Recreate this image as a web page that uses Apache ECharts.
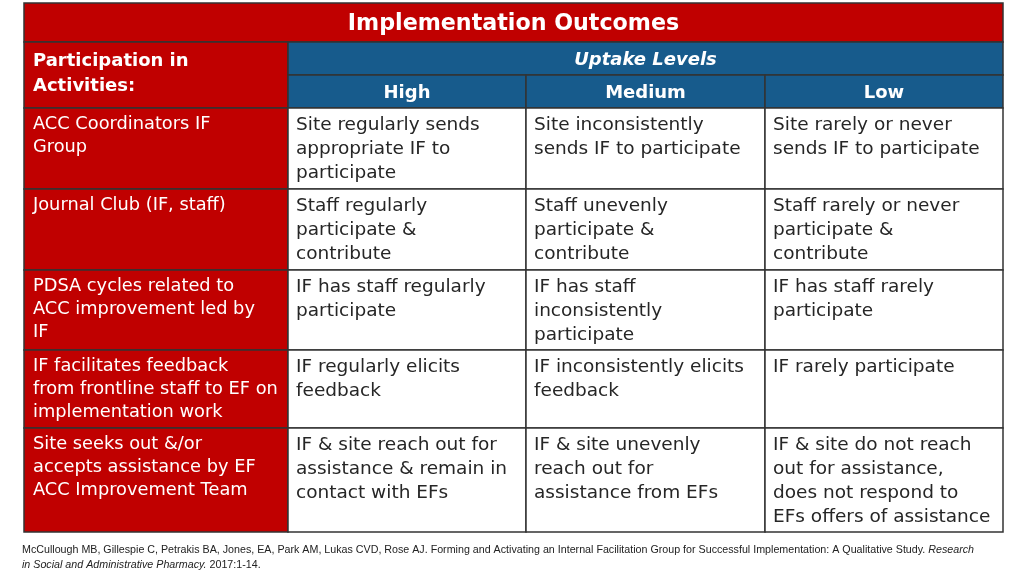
<!DOCTYPE html>
<html><head><meta charset="utf-8">
<script src="https://cdn.jsdelivr.net/npm/echarts@6/dist/echarts.min.js"></script>
<style>html,body{margin:0;padding:0;background:#fff}#c{width:1024px;height:576px}</style>
</head><body><div id="c"></div>
<script>
// ---------- DATA ----------
const tableTitle = 'Implementation Outcomes';
const stubHeader = 'Participation in\nActivities:';
const groupHeader = 'Uptake Levels';
const levels = ['High', 'Medium', 'Low'];
const activities = [
  'ACC Coordinators IF\nGroup',
  'Journal Club (IF, staff)',
  'PDSA cycles related to\nACC improvement led by\nIF',
  'IF facilitates feedback\nfrom frontline staff to EF on\nimplementation work',
  'Site seeks out &/or\naccepts assistance by EF\nACC Improvement Team'
];
const highUptake = [
  'Site regularly sends\nappropriate IF to\nparticipate',
  'Staff regularly\nparticipate &\ncontribute',
  'IF has staff regularly\nparticipate',
  'IF regularly elicits\nfeedback',
  'IF & site reach out for\nassistance & remain in\ncontact with EFs'
];
const mediumUptake = [
  'Site inconsistently\nsends IF to participate',
  'Staff unevenly\nparticipate &\ncontribute',
  'IF has staff\ninconsistently\nparticipate',
  'IF inconsistently elicits\nfeedback',
  'IF & site unevenly\nreach out for\nassistance from EFs'
];
const lowUptake = [
  'Site rarely or never\nsends IF to participate',
  'Staff rarely or never\nparticipate &\ncontribute',
  'IF has staff rarely\nparticipate',
  'IF rarely participate',
  'IF & site do not reach\nout for assistance,\ndoes not respond to\nEFs offers of assistance'
];
const citationMain = 'McCullough MB, Gillespie C, Petrakis BA, Jones, EA, Park AM, Lukas CVD, Rose AJ. Forming and Activating an Internal Facilitation Group for Successful Implementation: A Qualitative Study.';
const citationJournalA = 'Research';
const citationJournalB = 'in Social and Administrative Pharmacy.';
const citationTail = '2017:1-14.';

// ---------- LAYOUT ----------
const RED = '#C00000', BLUE = '#175B8C', FONT = '"DejaVu Sans", sans-serif';
const colWidths = [264, 238, 239, 238];
const rowHeights = [39, 33, 33, 81, 81, 80, 78, 104];
const cum = a => a.reduce((acc, v) => (acc.push(acc[acc.length - 1] + v), acc), [0]);
const colEdges = cum(colWidths), rowEdges = cum(rowHeights);

const styles = {
  title:    {fill: RED,  color: '#fff', size: 22.2, weight: 'bold', italic: false, center: true, dy: 2, lh: 26},
  stubHead: {fill: RED,  color: '#fff', size: 18, weight: 'bold', italic: false, center: false, padX: 9, padY: 7, lh: 25},
  group:    {fill: BLUE, color: '#fff', size: 18, weight: 'bold', italic: true, center: true, dy: 1.5, lh: 24},
  level:    {fill: BLUE, color: '#fff', size: 18, weight: 'bold', italic: false, center: true, dy: 1.5, lh: 24},
  stub:     {fill: RED,  color: '#fff', size: 17.8, weight: 'normal', italic: false, center: false, padX: 9, padY: 5, lh: 23},
  body:     {fill: '#fff', color: '#262626', size: 18.5, weight: 'normal', italic: false, center: false, padX: 8, padY: 5.5, lh: 24}
};

const cells = [];
cells.push({c0: 0, c1: 4, r0: 0, r1: 1, text: tableTitle, kind: 'title'});
cells.push({c0: 0, c1: 1, r0: 1, r1: 3, text: stubHeader, kind: 'stubHead'});
cells.push({c0: 1, c1: 4, r0: 1, r1: 2, text: groupHeader, kind: 'group'});
levels.forEach((l, i) => cells.push({c0: i + 1, c1: i + 2, r0: 2, r1: 3, text: l, kind: 'level'}));
activities.forEach((a, r) => {
  cells.push({c0: 0, c1: 1, r0: r + 3, r1: r + 4, text: a, kind: 'stub'});
  [highUptake, mediumUptake, lowUptake].forEach((col, ci) =>
    cells.push({c0: ci + 1, c1: ci + 2, r0: r + 3, r1: r + 4, text: col[r], kind: 'body'}));
});

const citeFont = {fontFamily: '"Liberation Sans", sans-serif', fontSize: 10.7, fontWeight: 'normal', color: '#222', lineHeight: 15};

const chart = echarts.init(document.getElementById('c'), null, {renderer: 'canvas'});
chart.setOption({
  backgroundColor: '#fff',
  animation: false,
  title: {
    left: 22, top: 543, padding: 0,
    text: '{n|' + citationMain + '} {i|' + citationJournalA + '}\n{i|' + citationJournalB + '} {n|' + citationTail + '}',
    textStyle: Object.assign({}, citeFont, {
      rich: {
        n: Object.assign({}, citeFont),
        i: Object.assign({}, citeFont, {fontStyle: 'italic'})
      }
    })
  },
  grid: {left: 24, right: 21, top: 3, bottom: 44},
  xAxis: {type: 'value', min: 0, max: colEdges[colEdges.length - 1], show: false},
  yAxis: {type: 'value', min: 0, max: rowEdges[rowEdges.length - 1], inverse: true, show: false},
  series: [{
    type: 'custom',
    clip: false,
    data: cells.map(c => [colEdges[c.c0], rowEdges[c.r0], colEdges[c.c1], rowEdges[c.r1]]),
    renderItem: (params, api) => {
      const cell = cells[params.dataIndex];
      const s = styles[cell.kind];
      const p0 = api.coord([api.value(0), api.value(1)]);
      const p1 = api.coord([api.value(2), api.value(3)]);
      const x = p0[0], y = p0[1], w = p1[0] - p0[0], h = p1[1] - p0[1];
      const textStyle = {
        text: cell.text, fill: s.color, fontFamily: FONT, fontSize: s.size,
        fontWeight: s.weight, fontStyle: s.italic ? 'italic' : 'normal', lineHeight: s.lh
      };
      if (s.center) {
        Object.assign(textStyle, {x: x + w / 2, y: y + h / 2 + s.dy, align: 'center', verticalAlign: 'middle'});
      } else {
        Object.assign(textStyle, {x: x + s.padX, y: y + s.padY, align: 'left', verticalAlign: 'top'});
      }
      return {
        type: 'group',
        children: [
          {type: 'rect', shape: {x, y, width: w, height: h}, style: {fill: s.fill, stroke: '#333', lineWidth: 1.5}},
          {type: 'text', style: textStyle}
        ]
      };
    }
  }]
});
</script></body></html>
